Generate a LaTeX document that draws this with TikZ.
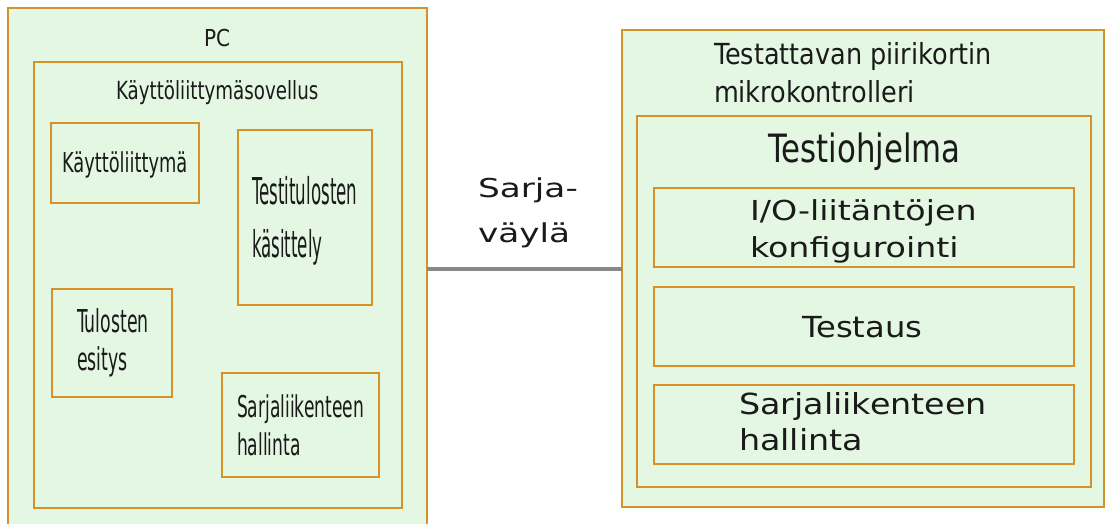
\documentclass[tikz,border=0pt]{standalone}
\usepackage{fontspec}
\usepackage{graphicx}
\setmainfont{DejaVu Sans}
\definecolor{boxfill}{HTML}{E3F7E3}
\definecolor{boxline}{HTML}{D6922A}
\definecolor{busline}{HTML}{888888}
\definecolor{ink}{HTML}{1A1A1A}
% horizontally scaled, left-aligned text block; first line carries the baseline
\newcommand\hblock[2]{\scalebox{#1}[1]{\begin{tabular}[t]{@{}l@{}}#2\end{tabular}}}
\newcommand\fs[2]{\fontsize{#1}{#2}\selectfont}
\tikzset{
  box/.style={draw=boxline, fill=boxfill, line width=2.4pt, inner sep=0pt, outer sep=0pt, anchor=north west},
  lbl/.style={inner sep=0pt, outer sep=0pt, text=ink, anchor=base west},
  bus/.style={draw=busline, line width=3.5pt}
}
\begin{document}
\begin{tikzpicture}[x=1pt, y=-1pt]
  \useasboundingbox (0,0) rectangle (1105,524);
  \clip (0,0) rectangle (1105,524);

  % PC side
  \node[box, minimum width=419pt, minimum height=540pt] (pc) at (8,8) {};
  \node[box, minimum width=368pt, minimum height=446pt] (app) at (34,62) {};
  \node[box, minimum width=148pt, minimum height=80pt] (ui) at (51,123) {};
  \node[box, minimum width=134pt, minimum height=175pt] (proc) at (238,130) {};
  \node[box, minimum width=120pt, minimum height=108pt] (show) at (52,289) {};
  \node[box, minimum width=157pt, minimum height=104pt] (serl) at (222,373) {};

  \node[lbl] (pctxt) at (204,47) {\fs{23.3}{28}\hblock{0.86}{PC}};
  \node[lbl] (apptxt) at (116,100) {\fs{25}{30}\hblock{0.73}{Käyttöliittymäsovellus}};
  \node[lbl] (uitxt) at (62,172) {\fs{27.4}{32}\hblock{0.65}{Käyttöliittymä}};
  \node[lbl] (proctxt) at (252,204) {\fs{37}{53}\hblock{0.45}{Testitulosten\\käsittely}};
  \node[lbl] (showtxt) at (77,332) {\fs{31.5}{38}\hblock{0.55}{Tulosten\\esitys}};
  \node[lbl] (serltxt) at (237,417) {\fs{30}{38}\hblock{0.57}{Sarjaliikenteen\\hallinta}};

  % microcontroller side
  \node[box, minimum width=482pt, minimum height=477pt] (mcu) at (622,30) {};
  \node[box, minimum width=454pt, minimum height=371pt] (prog) at (637,116) {};
  \node[box, minimum width=420pt, minimum height=79pt] (io) at (654,188) {};
  \node[box, minimum width=420pt, minimum height=79pt] (test) at (654,287) {};
  \node[box, minimum width=420pt, minimum height=79pt] (serr) at (654,385) {};

  \node[lbl] (mcutxt) at (714,65) {\fs{29}{38}\hblock{0.88}{Testattavan piirikortin\\mikrokontrolleri}};
  \node[lbl] (progtxt) at (768,162) {\fs{39}{46}\hblock{0.79}{Testiohjelma}};
  \node[lbl] (iotxt) at (750,220) {\fs{27.5}{37}\hblock{1.21}{I/O-liitäntöjen\\konfigurointi}};
  \node[lbl] (testtxt) at (802,337) {\fs{29}{36}\hblock{1.11}{Testaus}};
  \node[lbl] (serrtxt) at (739,414) {\fs{29}{36}\hblock{1.15}{Sarjaliikenteen\\hallinta}};

  % serial bus between the two
  \coordinate (busy) at (0,269);
  \draw[bus] (pc.east |- busy) -- (mcu.west |- busy);
  \node[lbl] (bustxt) at (478,197) {\fs{26}{45}\hblock{1.32}{Sarja-\\väylä}};
\end{tikzpicture}
\end{document}
